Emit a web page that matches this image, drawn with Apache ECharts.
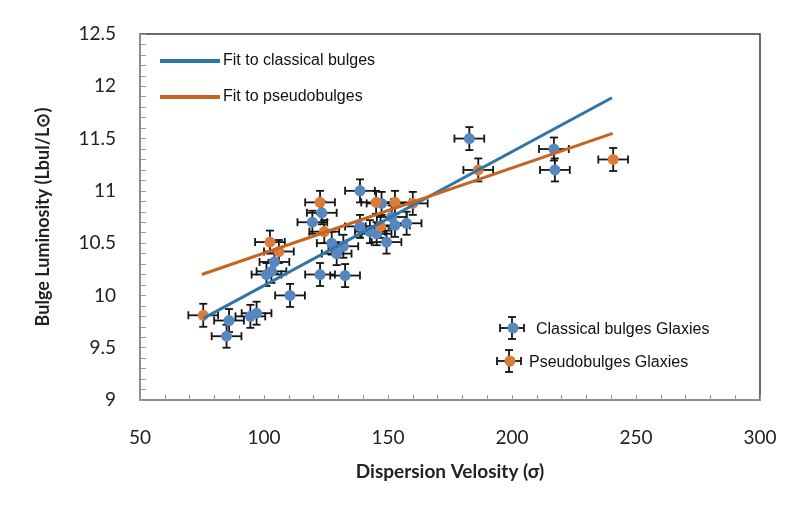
<!DOCTYPE html>
<html>
<head>
<meta charset="utf-8">
<script src="https://cdn.jsdelivr.net/npm/echarts@6/dist/echarts.min.js"></script>
<style>
  html, body { margin: 0; padding: 0; background: #fff; }
  #chart { width: 793px; height: 511px; }
</style>
</head>
<body>
<div id="chart"></div>
<script>
// Classical bulges: velocity dispersion (σ) and log bulge luminosity
const classicalSigma = [84.9, 85.9, 94.5, 97, 110.5, 101, 103, 104.2, 119.5, 123.3, 122.6, 132.7, 127.3, 132, 129.3, 138.7, 138.7, 142.7, 145.4, 147.4, 149.4, 151.5, 152.8, 157.5, 182.8, 216.9, 217.3];
const classicalLum   = [9.61, 9.76, 9.80, 9.83, 10.0, 10.2, 10.23, 10.32, 10.70, 10.79, 10.20, 10.19, 10.50, 10.47, 10.40, 11.0, 10.66, 10.61, 10.59, 10.88, 10.51, 10.75, 10.67, 10.69, 11.5, 11.4, 11.2];

// Pseudobulges
const pseudoSigma = [75.5, 102.4, 106, 122.6, 124.3, 145.2, 147, 152.8, 160, 186.4, 240.8];
const pseudoLum   = [9.81, 10.51, 10.42, 10.89, 10.61, 10.89, 10.66, 10.89, 10.88, 11.2, 11.3];

// Symmetric error bars (σ and luminosity)
const sigmaErr = 6;
const lumErr = 0.11;

// Linear fits: end points [σ, L]
const fitClassical = [[75.5, 9.78], [240.3, 11.89]];
const fitPseudo    = [[74.9, 10.2], [240.6, 11.55]];

// Axis ranges and tick labels
const xTicks = [50, 100, 150, 200, 250, 300];
const yTicks = [9, 9.5, 10, 10.5, 11, 11.5, 12, 12.5];

const legendLines = ['Fit to classical bulges', 'Fit to pseudobulges'];
const legendPoints = ['Classical bulges Glaxies', 'Pseudobulges Glaxies'];

const BLUE = '#5787c1';
const ORANGE = '#dd7b3a';
const FIT_BLUE = '#2f76a8';
const FIT_ORANGE = '#c5651f';

function pairs(xs, ys) { return xs.map((x, i) => [x, ys[i]]); }

function errorBarItem(params, api) {
  const x = api.value(0), y = api.value(1);
  const c = api.coord([x, y]);
  const l = api.coord([x - sigmaErr, y]);
  const r = api.coord([x + sigmaErr, y]);
  const t = api.coord([x, y + lumErr]);
  const b = api.coord([x, y - lumErr]);
  const cap = 4;
  const style = { stroke: '#151515', lineWidth: 1.8 };
  const seg = (x1, y1, x2, y2) => ({ type: 'line', shape: { x1, y1, x2, y2 }, style });
  return {
    type: 'group',
    children: [
      seg(l[0], c[1], r[0], c[1]),
      seg(l[0], c[1] - cap, l[0], c[1] + cap),
      seg(r[0], c[1] - cap, r[0], c[1] + cap),
      seg(c[0], t[1], c[0], b[1]),
      seg(c[0] - cap, t[1], c[0] + cap, t[1]),
      seg(c[0] - cap, b[1], c[0] + cap, b[1])
    ]
  };
}

const chart = echarts.init(document.getElementById('chart'), null, { renderer: 'canvas' });

const labelFont = 'Lato, "Open Sans", sans-serif';
const legendFont = '"Liberation Sans Narrow", "Liberation Sans", Arial, sans-serif';

// Legend for the error-bar point series (icon: bar cross + dot)
function pointLegend(x, y, color, text, textX) {
  const s = { stroke: '#151515', lineWidth: 1.8 };
  return [
    { type: 'line', shape: { x1: x - 12, y1: y, x2: x + 12, y2: y }, style: s, z: 10 },
    { type: 'line', shape: { x1: x - 12, y1: y - 4, x2: x - 12, y2: y + 4 }, style: s, z: 10 },
    { type: 'line', shape: { x1: x + 12, y1: y - 4, x2: x + 12, y2: y + 4 }, style: s, z: 10 },
    { type: 'line', shape: { x1: x, y1: y - 11, x2: x, y2: y + 11 }, style: s, z: 10 },
    { type: 'line', shape: { x1: x - 4, y1: y - 11, x2: x + 4, y2: y - 11 }, style: s, z: 10 },
    { type: 'line', shape: { x1: x - 4, y1: y + 11, x2: x + 4, y2: y + 11 }, style: s, z: 10 },
    { type: 'circle', shape: { cx: x + 1, cy: y, r: 5.5 }, style: { fill: color }, z: 11 },
    { type: 'text', x: textX, y: y + 2, style: { text, font: '16px ' + legendFont, fill: '#111', verticalAlign: 'middle' }, z: 11 }
  ];
}

chart.setOption({
  animation: false,
  backgroundColor: '#ffffff',
  grid: {
    left: 140, right: 33, top: 34, bottom: 111,
    show: true, borderColor: '#3a3a3a', borderWidth: 1.5, backgroundColor: 'transparent'
  },
  legend: {
    data: legendLines.map(n => ({ name: n, icon: 'rect' })),
    orient: 'vertical',
    left: 155, top: 48,
    itemWidth: 60, itemHeight: 4, itemGap: 20,
    textStyle: { fontFamily: legendFont, fontSize: 16, color: '#111', padding: [0, 0, 0, -2] }
  },
  xAxis: {
    type: 'value',
    min: xTicks[0], max: xTicks[xTicks.length - 1], interval: 50,
    name: 'Dispersion Velosity (σ)',
    nameLocation: 'middle', nameGap: 62,
    nameTextStyle: { fontFamily: labelFont, fontWeight: 'bold', fontSize: 19, color: '#222' },
    axisLine: { show: true, lineStyle: { color: '#9a9a9a', width: 1.5 } },
    axisTick: { show: true, inside: true, length: 5, lineStyle: { color: '#9a9a9a' } },
    minorTick: { show: true, splitNumber: 5, length: 5, lineStyle: { color: '#9a9a9a' } },
    splitLine: { show: false },
    axisLabel: { margin: 28, fontFamily: labelFont, fontSize: 19, color: '#222' }
  },
  yAxis: {
    type: 'value',
    min: yTicks[0], max: yTicks[yTicks.length - 1], interval: 0.5,
    name: 'Bulge Luminosity (Lbul/L⊙)',
    nameLocation: 'middle', nameGap: 88,
    nameTextStyle: { fontFamily: labelFont, fontWeight: 'bold', fontSize: 18, color: '#222' },
    axisLine: { show: true, lineStyle: { color: '#9a9a9a', width: 1.5 } },
    axisTick: { show: true, inside: true, length: 6, lineStyle: { color: '#9a9a9a' } },
    minorTick: { show: true, splitNumber: 5, length: 6, lineStyle: { color: '#9a9a9a' } },
    splitLine: { show: false },
    axisLabel: { margin: 24, fontFamily: labelFont, fontSize: 19, color: '#222' }
  },
  series: [
    {
      name: 'classical-err', type: 'custom', renderItem: errorBarItem,
      data: pairs(classicalSigma, classicalLum), z: 1, silent: true
    },
    {
      name: 'pseudo-err', type: 'custom', renderItem: errorBarItem,
      data: pairs(pseudoSigma, pseudoLum), z: 1, silent: true
    },
    {
      name: legendPoints[0], type: 'scatter', symbol: 'circle', symbolSize: 11,
      itemStyle: { color: BLUE, opacity: 1 }, data: pairs(classicalSigma, classicalLum), z: 2
    },
    {
      name: legendPoints[1], type: 'scatter', symbol: 'circle', symbolSize: 11,
      itemStyle: { color: ORANGE, opacity: 1 }, data: pairs(pseudoSigma, pseudoLum), z: 2
    },
    {
      name: legendLines[0], type: 'line', data: fitClassical, showSymbol: false,
      lineStyle: { color: FIT_BLUE, width: 3 }, itemStyle: { color: FIT_BLUE }, z: 3
    },
    {
      name: legendLines[1], type: 'line', data: fitPseudo, showSymbol: false,
      lineStyle: { color: FIT_ORANGE, width: 3 }, itemStyle: { color: FIT_ORANGE }, z: 3
    }
  ],
  graphic: [
    ...pointLegend(512, 328, BLUE, legendPoints[0], 536),
    ...pointLegend(509, 361, ORANGE, legendPoints[1], 529)
  ]
});
</script>
</body>
</html>
